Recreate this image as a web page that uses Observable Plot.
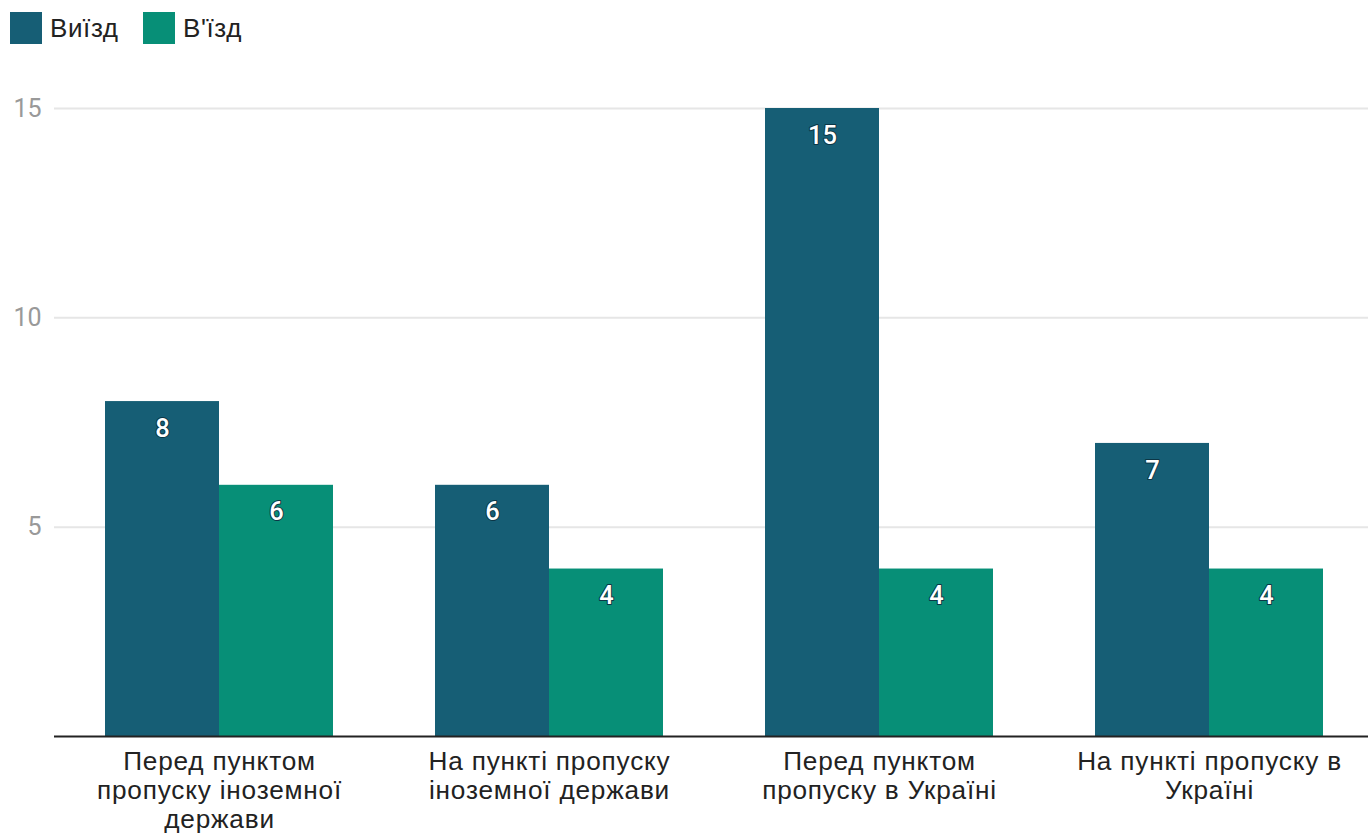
<!DOCTYPE html>
<html>
<head>
<meta charset="utf-8">
<script src="https://cdn.jsdelivr.net/npm/d3@7"></script>
<script src="https://cdn.jsdelivr.net/npm/@observablehq/plot@0.6"></script>
<style>
  html, body { margin: 0; padding: 0; background: #fff; overflow: hidden; }
  #legend { height: 60px; position: relative; font-family: "Liberation Sans", Arial, sans-serif; font-size: 26px; color: #222; letter-spacing: 0.6px; }
  .item { position: absolute; top: 12px; display: flex; align-items: center; height: 32px; }
  .sw { width: 32px; height: 32px; margin-right: 8px; }
  #chart svg { display: block; max-width: none !important; }
</style>
</head>
<body>
<div id="legend"></div>
<div id="chart"></div>
<script>
const categories = [
  "Перед пунктом пропуску іноземної держави",
  "На пункті пропуску іноземної держави",
  "Перед пунктом пропуску в Україні",
  "На пункті пропуску в Україні"
];
const tickLabels = [
  "Перед пунктом\nпропуску іноземної\nдержави",
  "На пункті пропуску\nіноземної держави",
  "Перед пунктом\nпропуску в Україні",
  "На пункті пропуску в\nУкраїні"
];
const series = ["Виїзд", "В'їзд"];
const exitValues = [8, 6, 15, 7];
const entryValues = [6, 4, 4, 4];
const yTicks = [5, 10, 15];
const colors = ["#165e75", "#078f77"];

const data = categories.flatMap((c, i) => [
  {category: c, series: series[0], value: exitValues[i]},
  {category: c, series: series[1], value: entryValues[i]}
]);

// legend
const legend = document.getElementById("legend");
const lefts = [10, 143];
series.forEach((s, i) => {
  const it = document.createElement("div");
  it.className = "item";
  it.style.left = lefts[i] + "px";
  it.innerHTML = `<div class="sw" style="background:${colors[i]}"></div><span>${s}</span>`;
  legend.appendChild(it);
});

const chart = Plot.plot({
  width: 1374,
  height: 779,
  marginLeft: 54,
  marginRight: 0,
  marginTop: 48,
  marginBottom: 103,
  style: {fontFamily: "Liberation Sans, Arial, sans-serif", background: "white", maxWidth: "none"},
  fx: {domain: categories, padding: 0, label: null, axis: null},
  x: {domain: series, paddingInner: 0, paddingOuter: 0.435, axis: null},
  y: {domain: [0, 15], axis: null},
  color: {domain: series, range: colors},
  marks: [
    Plot.gridY(yTicks, {stroke: "#e6e6e6", strokeOpacity: 1, strokeWidth: 2}),
    Plot.barY(data, {fx: "category", x: "series", y: "value", fill: "series"}),
    Plot.ruleY([0], {stroke: "#222", strokeWidth: 2}),
    Plot.text(data, {
      fx: "category", x: "series", y: "value", text: d => String(d.value),
      dy: 27, fill: "white", stroke: "#0c3646", strokeWidth: 2, paintOrder: "stroke",
      fontSize: 25.5, fontWeight: 500, fontFamily: "Roboto, sans-serif"
    }),
    Plot.axisY(yTicks, {tickSize: 0, tickPadding: 13, fontSize: 25, fill: "#999", label: null, fontFamily: "Roboto, sans-serif"}),
    Plot.axisFx({
      anchor: "bottom",
      tickSize: 0, tickPadding: 13, fontSize: 26.2, lineHeight: 1.1, fill: "#222", label: null,
      tickFormat: d => tickLabels[categories.indexOf(d)]
    })
  ]
});
chart.style.maxWidth = "none";
d3.select(chart).selectAll('g[aria-label="fx-axis tick label"] text').style("letter-spacing", "0.8px");
document.getElementById("chart").appendChild(chart);
</script>
</body>
</html>
